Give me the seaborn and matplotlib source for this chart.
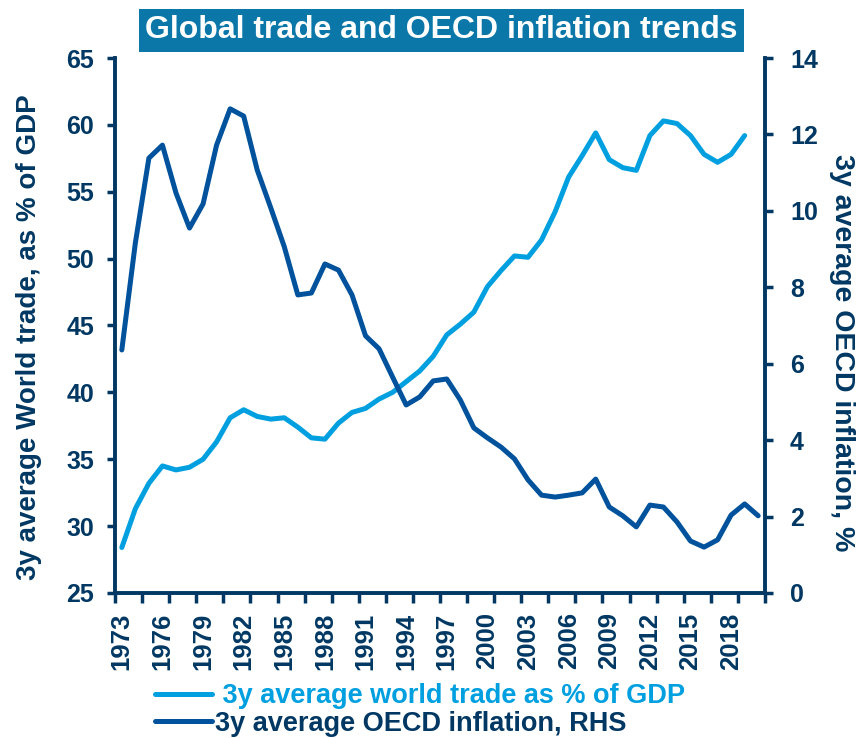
import pandas as pd
import matplotlib.pyplot as plt
import seaborn as sns
from matplotlib.ticker import FixedLocator, NullFormatter

# värden
years = list(range(1973, 2021))
trade = [28.4, 31.3, 33.2, 34.5, 34.2, 34.4, 35.0, 36.3, 38.1, 38.7,
         38.2, 38.0, 38.1, 37.4, 36.6, 36.5, 37.7, 38.5, 38.8, 39.5,
         40.0, 40.8, 41.6, 42.7, 44.3, 45.1, 46.0, 47.9, 49.1, 50.2,
         50.1, 51.4, 53.5, 56.1, 57.7, 59.4, 57.4, 56.8, 56.6, 59.2,
         60.3, 60.1, 59.2, 57.8, 57.2, 57.8, 59.2, None]
inflation = [6.36, 9.16, 11.38, 11.72, 10.47, 9.55, 10.18, 11.72, 12.67, 12.48,
             11.07, 10.08, 9.06, 7.80, 7.85, 8.61, 8.45, 7.80, 6.73, 6.39,
             5.65, 4.92, 5.13, 5.55, 5.60, 5.05, 4.32, 4.06, 3.82, 3.51,
             2.96, 2.56, 2.51, 2.56, 2.62, 2.98, 2.25, 2.02, 1.73, 2.30,
             2.25, 1.86, 1.36, 1.20, 1.39, 2.04, 2.33, 2.02]
tick_years = list(range(1973, 2019, 3))

df = pd.DataFrame({"year": years, "trade": trade, "inflation": inflation})

navy = "#003863"
light = "#00A0E0"
dark = "#00529C"

sns.set_style("ticks")
plt.rcParams["font.family"] = ["Liberation Sans", "DejaVu Sans"]
plt.rcParams["font.weight"] = "bold"

fig = plt.figure(figsize=(8.63, 7.38), dpi=100)
ax = fig.add_axes([0.1333, 0.1965, 0.7531, 0.7249])
ax2 = ax.twinx()

sns.lineplot(data=df, x="year", y="trade", ax=ax, color=light, linewidth=3.6,
             label=" 3y average world trade as % of GDP", legend=False)
sns.lineplot(data=df, x="year", y="inflation", ax=ax2, color=dark, linewidth=3.6,
             label="3y average OECD inflation, RHS", legend=False)

ax.set_xlim(1972.5, 2020.5)
ax.set_ylim(25, 65)
ax2.set_ylim(0, 14)
ax.set_yticks(range(25, 70, 5))
ax2.set_yticks(range(0, 16, 2))

ax.set_xticks(tick_years)
ax.set_xticklabels([str(y) for y in tick_years], rotation=90)
ax.tick_params(axis="x", which="major", length=0, pad=14, labelsize=18.5,
               labelcolor=navy)
ax.xaxis.set_minor_locator(FixedLocator([1972.5 + 2 * i for i in range(25)]))
ax.xaxis.set_minor_formatter(NullFormatter())
ax.tick_params(axis="x", which="minor", length=7, width=2.5, color=navy)

for a in (ax, ax2):
    a.tick_params(axis="y", length=6, width=2.5, color=navy, labelsize=18,
                  labelcolor=navy, pad=9)
    for s in a.spines.values():
        s.set_color(navy)
        s.set_linewidth(2.8)
    a.spines["top"].set_visible(False)
ax2.tick_params(axis="y", pad=12)
ax2.spines["left"].set_visible(False)
ax2.spines["bottom"].set_visible(False)
ax.spines["right"].set_visible(False)

ax.set_xlabel("")
ax.set_ylabel("3y average World trade, as % of GDP", fontsize=20,
              fontweight="bold", color=navy)
ax.yaxis.set_label_coords(-0.112, 0.478)
ax2.set_ylabel("3y average OECD inflation, %", fontsize=20.5,
               fontweight="bold", color=navy, rotation=-90, va="center")
ax2.yaxis.set_label_coords(1.118, 0.45)

fig.text(0.5116, 0.959, "Global trade and OECD inflation trends", ha="center",
         va="center", fontsize=23, fontweight="bold", color="white",
         bbox=dict(boxstyle="square,pad=0.2", fc="#0B77A9", ec="none"))

h1, l1 = ax.get_legend_handles_labels()
h2, l2 = ax2.get_legend_handles_labels()
leg = fig.legend(h1 + h2, l1 + l2, loc="upper left", bbox_to_anchor=(0.18, 0.074),
                 frameon=False, fontsize=19.5, handlelength=2.1, handletextpad=0.12,
                 labelspacing=0.05, borderpad=0, borderaxespad=0)
for t, c in zip(leg.get_texts(), [light, navy]):
    t.set_color(c)
    t.set_fontweight("bold")

fig.savefig("out.png", dpi=100)
